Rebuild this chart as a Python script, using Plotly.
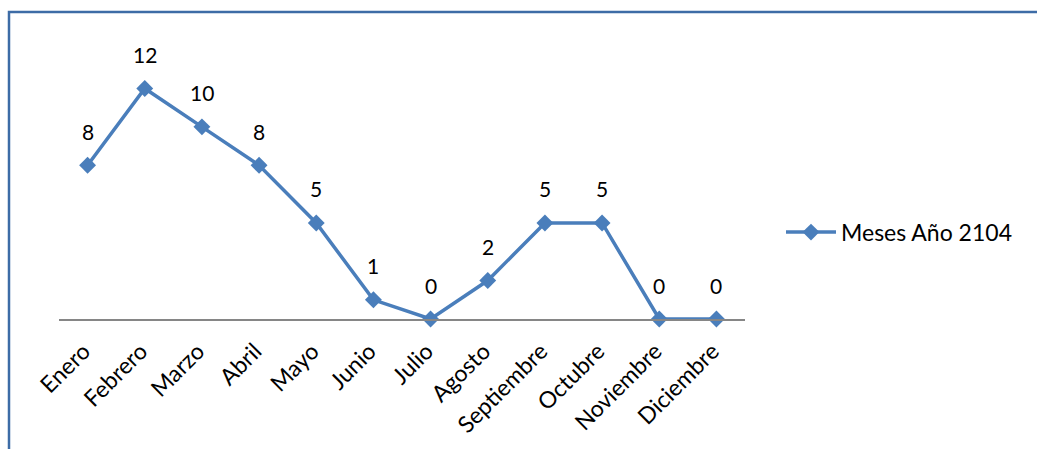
import plotly.graph_objects as go

months = ["Enero", "Febrero", "Marzo", "Abril", "Mayo", "Junio", "Julio",
          "Agosto", "Septiembre", "Octubre", "Noviembre", "Diciembre"]
values = [8, 12, 10, 8, 5, 1, 0, 2, 5, 5, 0, 0]
series_name = "Meses Año 2104"

LINE_COLOR = "#4a7ebb"
FONT = "Lato, Carlito, 'Open Sans', sans-serif"

fig = go.Figure()
fig.add_trace(go.Scatter(
    x=months, y=values, mode="lines+markers", name=series_name,
    line=dict(color=LINE_COLOR, width=3.5),
    marker=dict(symbol="diamond", size=13, color=LINE_COLOR),
    cliponaxis=False,
))

for m, v in zip(months, values):
    fig.add_annotation(x=m, y=v, text=str(v), showarrow=False, yshift=34,
                       font=dict(size=21, color="black", family=FONT))

W, H = 1037, 449
L, R, T, B = 59, 745, 49.5, 319
pw, ph = R - L, B - T

def px_x(p):
    return (p - L) / pw

def px_y(p):
    return (B - p) / ph

fig.add_shape(type="rect", xref="paper", yref="paper",
              x0=px_x(9), x1=px_x(1060), y0=px_y(480), y1=px_y(11.5),
              line=dict(color="#3d6ca6", width=2.5), fillcolor="rgba(0,0,0,0)",
              layer="above")

fig.update_layout(
    width=W, height=H,
    margin=dict(l=L, r=W - R, t=T, b=H - B, pad=0),
    paper_bgcolor="white", plot_bgcolor="white",
    font=dict(family=FONT, size=23, color="black"),
    showlegend=True,
    legend=dict(x=px_x(781), y=px_y(232), xanchor="left", yanchor="middle",
                font=dict(size=23, color="black", family=FONT),
                bgcolor="rgba(0,0,0,0)", itemwidth=50),
    xaxis=dict(range=[-0.5, 11.5], showgrid=False, zeroline=False,
               showline=True, linecolor="#868686", linewidth=1.5,
               ticks="", tickangle=-45, ticklabelstandoff=8, ticklabelshift=-4,
               tickfont=dict(size=23, color="black", family=FONT)),
    yaxis=dict(range=[0, 14], visible=False, showgrid=False, zeroline=False),
)

fig.write_html("out.html")
